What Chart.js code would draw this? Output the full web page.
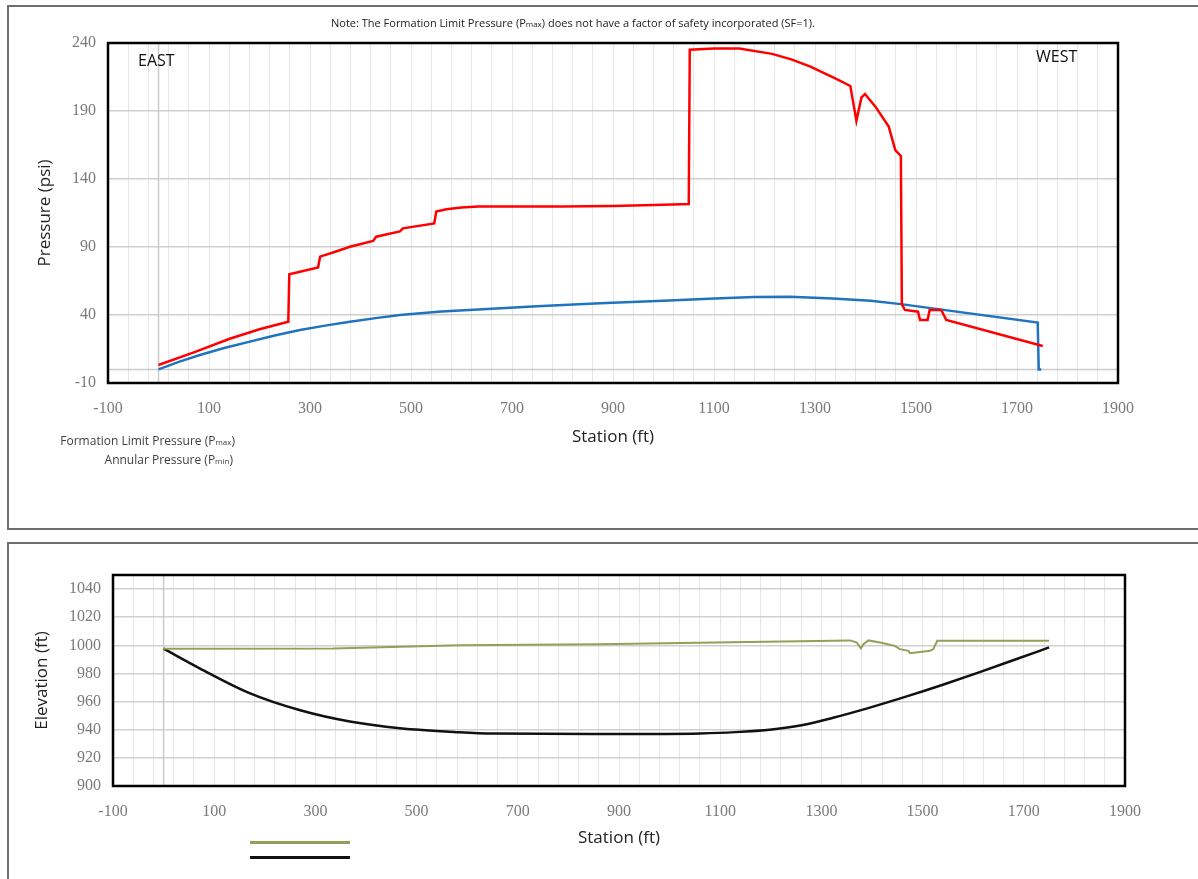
<!DOCTYPE html>
<html>
<head>
<meta charset="utf-8">
<script src="https://cdn.jsdelivr.net/npm/chart.js@4.4.1/dist/chart.umd.min.js"></script>
<style>
  body { margin: 0; width: 1198px; height: 879px; overflow: hidden; position: relative; background: #fff; font-family: "Open Sans", sans-serif; }
  .panel { position: absolute; border: 2px solid #6e6e6e; box-sizing: border-box; }
  canvas { position: absolute; left: 0; }
  .txt { position: absolute; white-space: nowrap; }
  .sub { font-size: 8px; }
  .legline { position: absolute; height: 3px; width: 100px; left: 250px; }
</style>
</head>
<body>
<div class="panel" style="left:7px; top:5px; width:1200px; height:525px;"></div>
<div class="panel" style="left:7px; top:542px; width:1200px; height:345px;"></div>

<canvas id="pressureChart" width="1198" height="530" style="top:0"></canvas>
<canvas id="elevChart" width="1198" height="336" style="top:543px"></canvas>

<div class="txt" style="left:331px; top:15px; font-size:11px; color:#222;">Note: The Formation Limit Pressure (P<span class="sub">max</span>) does not have a factor of safety incorporated (SF=1).</div>
<div class="txt" style="left:138px; top:49px; font-size:16px; color:#111;">EAST</div>
<div class="txt" style="left:1036px; top:45px; font-size:16px; color:#111;">WEST</div>
<div class="txt" style="right:963px; top:432px; font-size:12px; color:#404040; text-align:right;">Formation Limit Pressure (P<span class="sub">max</span>)</div>
<div class="txt" style="right:965px; top:451px; font-size:12px; color:#404040; text-align:right;">Annular Pressure (P<span class="sub">min</span>)</div>
<div class="legline" style="top:841px; background:#93a05a;"></div>
<div class="legline" style="top:856px; background:#111;"></div>

<script>
// Formation limit pressure (Pmax), psi
const pmaxStation = [0, 70, 141, 200, 257, 259, 316, 320, 350, 379, 425, 431, 478, 484, 546, 550, 570, 600, 633, 800, 900, 1000, 1050, 1052, 1100, 1150, 1215, 1253, 1291, 1340, 1370, 1382, 1392, 1399, 1420, 1446, 1459, 1470, 1472, 1478, 1504, 1508, 1523, 1527, 1550, 1560, 1751];
const pmaxPsi = [3.2, 12.5, 22.5, 29.5, 35, 70, 75, 82.9, 86.5, 90.2, 94.4, 97.6, 101.5, 103.7, 107.3, 116, 117.8, 119, 119.7, 119.8, 120.2, 121, 121.6, 235, 236, 236, 232, 228, 222.6, 214, 208.4, 182.9, 200, 202.5, 193, 178.5, 161.3, 156.9, 48, 43.7, 42.4, 36.3, 36.3, 43.7, 43.7, 36.3, 17.2];

// Annular pressure (Pmin), psi
const pminStation = [0, 40, 82, 130, 181, 230, 280, 330, 379, 430, 478, 560, 633, 750, 874, 1000, 1101, 1180, 1250, 1335, 1410, 1470, 1741, 1743, 1748];
const pminPsi = [0, 5.5, 10.6, 15.7, 20.4, 24.9, 29, 32.2, 35, 37.7, 40, 42.5, 44, 46.5, 48.6, 50.5, 52.2, 53.2, 53.4, 52.2, 50.5, 48, 34.5, 0, 0];

// Ground surface elevation, ft
const groundStation = [0, 335, 450, 584, 862, 1089, 1357, 1370, 1378, 1383, 1393, 1416, 1445, 1455, 1472, 1475, 1515, 1521, 1529, 1750];
const groundElev = [997.6, 997.8, 998.8, 1000.1, 1000.8, 1002, 1003.5, 1002, 997.8, 1000.8, 1003.5, 1002, 999.6, 997.3, 996.1, 994.4, 996.1, 997.3, 1003.2, 1003.2];

// Pipe profile elevation, ft
const pipeStation = [0, 72, 171, 270, 368, 467, 584, 650, 900, 1060, 1130, 1202, 1258, 1323, 1389, 1467, 1540, 1610, 1690, 1750];
const pipeElev = [997.6, 983.5, 965.8, 953.8, 945.8, 941, 938.2, 937.3, 937, 937.4, 938.3, 940.2, 943, 948.5, 955, 963.5, 972, 980.6, 990.8, 998.5];

// axis ticks
const stationLabels = [-100, 100, 300, 500, 700, 900, 1100, 1300, 1500, 1700, 1900];
const pressureTicks = [-10, 40, 90, 140, 190, 240];
const elevationTicks = [900, 920, 940, 960, 980, 1000, 1020, 1040];

const toXY = (xs, ys) => xs.map((x, i) => ({ x: x, y: ys[i] }));

// minor vertical gridlines every 40 ft
const stationGrid = [];
for (let v = -100; v <= 1900; v += 40) stationGrid.push(v);

const tickFont = { family: 'Liberation Serif', size: 16 };
const titleFont = { family: 'Open Sans', size: 17 };

// frame around plot area + axis lines where the axes cross zero
const framePlugin = {
    id: 'frame',
    beforeDatasetsDraw(chart) {
        const ctx = chart.ctx;
        const a = chart.chartArea;
        const xs = chart.scales.x, ys = chart.scales.y;
        ctx.save();
        ctx.strokeStyle = '#cacaca';
        ctx.lineWidth = 1.5;
        const x0 = xs.getPixelForValue(0);
        ctx.beginPath(); ctx.moveTo(x0, a.top); ctx.lineTo(x0, a.bottom); ctx.stroke();
        if (ys.min < 0) {
            const y0 = ys.getPixelForValue(0);
            ctx.beginPath(); ctx.moveTo(a.left, y0); ctx.lineTo(a.right, y0); ctx.stroke();
        }
        ctx.restore();
    },
    afterDraw(chart) {
        const ctx = chart.ctx;
        const a = chart.chartArea;
        ctx.save();
        ctx.strokeStyle = '#000';
        ctx.lineWidth = 2.5;
        ctx.strokeRect(a.left, a.top, a.right - a.left, a.bottom - a.top);
        ctx.restore();
    }
};

function stationAxis(height) {
    return {
        type: 'linear',
        min: -100,
        max: 1900,
        afterBuildTicks: s => { s.ticks = stationGrid.map(v => ({ value: v })); },
        afterFit: s => { s.height = height; },
        ticks: {
            autoSkip: false,
            maxRotation: 0,
            padding: 16,
            font: tickFont,
            color: '#7a7a7a',
            callback: v => stationLabels.includes(v) ? String(v) : ''
        },
        grid: { color: '#e6e6e6', lineWidth: 1, drawTicks: false },
        border: { display: false },
        title: { display: true, text: 'Station (ft)', font: titleFont, color: '#222', padding: { top: 0, bottom: 4 } }
    };
}

// Pressure chart
new Chart(document.getElementById('pressureChart'), {
    type: 'line',
    data: {
        datasets: [
            {
                label: 'Formation Limit Pressure (Pmax)',
                data: toXY(pmaxStation, pmaxPsi),
                borderColor: '#ff0000',
                borderWidth: 2.5,
                pointRadius: 0,
                tension: 0
            },
            {
                label: 'Annular Pressure (Pmin)',
                data: toXY(pminStation, pminPsi),
                borderColor: '#1f73bf',
                borderWidth: 2.5,
                pointRadius: 0,
                tension: 0
            }
        ]
    },
    options: {
        responsive: false,
        animation: false,
        devicePixelRatio: 1,
        layout: { padding: { left: 35, top: 43, right: 80, bottom: 79 } },
        plugins: { legend: { display: false }, tooltip: { enabled: false } },
        scales: {
            x: stationAxis(68),
            y: {
                min: -10,
                max: 240,
                afterBuildTicks: s => { s.ticks = pressureTicks.map(v => ({ value: v })); },
                afterFit: s => { s.width = 73; },
                ticks: { padding: 12, font: tickFont, color: '#7a7a7a', callback: v => String(v) },
                grid: { color: '#cfcfcf', lineWidth: 1.5, drawTicks: false },
                border: { display: false },
                title: { display: true, text: 'Pressure (psi)', font: titleFont, color: '#222', padding: 0 }
            }
        }
    },
    plugins: [framePlugin]
});

// Elevation chart
new Chart(document.getElementById('elevChart'), {
    type: 'line',
    data: {
        datasets: [
            {
                label: 'Ground Surface',
                data: toXY(groundStation, groundElev),
                borderColor: '#93a05a',
                borderWidth: 2,
                pointRadius: 0,
                tension: 0
            },
            {
                label: 'Pipe Profile',
                data: toXY(pipeStation, pipeElev),
                borderColor: '#111111',
                borderWidth: 2.5,
                pointRadius: 0,
                cubicInterpolationMode: 'monotone'
            }
        ]
    },
    options: {
        responsive: false,
        animation: false,
        devicePixelRatio: 1,
        layout: { padding: { left: 32, top: 32, right: 73, bottom: 27 } },
        plugins: { legend: { display: false }, tooltip: { enabled: false } },
        scales: {
            x: stationAxis(66),
            y: {
                min: 900,
                max: 1050,
                afterBuildTicks: s => { s.ticks = elevationTicks.map(v => ({ value: v })); },
                afterFit: s => { s.width = 81; },
                ticks: { padding: 12, font: tickFont, color: '#7a7a7a', callback: v => String(v) },
                grid: { color: '#d0d0d0', lineWidth: 1.5, drawTicks: false },
                border: { display: false },
                title: { display: true, text: 'Elevation (ft)', font: titleFont, color: '#222', padding: 0 }
            }
        }
    },
    plugins: [framePlugin]
});
</script>
</body>
</html>
